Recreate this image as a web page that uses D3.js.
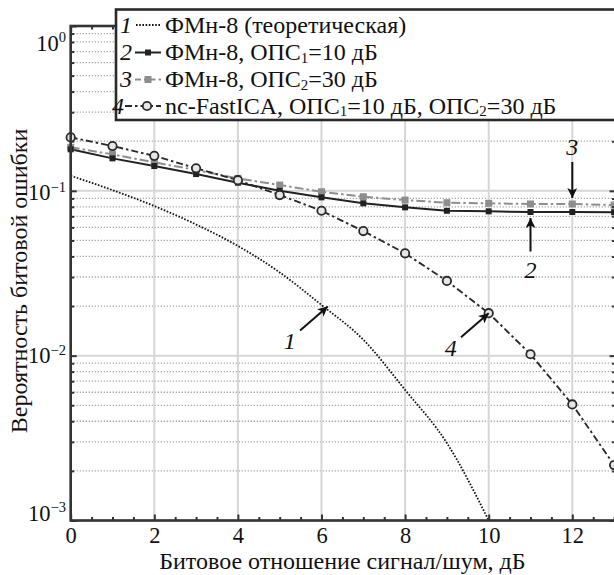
<!DOCTYPE html>
<html>
<head>
<meta charset="utf-8">
<script src="https://cdn.jsdelivr.net/npm/d3@7"></script>
<style>
  html, body { margin: 0; padding: 0; background: #fff; }
  svg { display: block; }
  svg text { font-family: "Liberation Serif", "Times New Roman", serif; }
</style>
</head>
<body>
<svg id="chart" width="614" height="575" font-family="Liberation Serif, Times New Roman, serif"></svg>
<script>
// ---------------- data ----------------
const snrDb = [0, 1, 2, 3, 4, 5, 6, 7, 8, 9, 10, 11, 12, 13];
const snrTheory = [0, 1, 2, 3, 4, 5, 6, 7, 8, 9, 10];
const berTheory = [0.1235, 0.101, 0.0809, 0.0625, 0.0463, 0.032, 0.0203, 0.0125, 0.0062, 0.00295, 0.001];
const berOps1 = [0.1786, 0.1574, 0.1414, 0.1264, 0.112, 0.100, 0.0913, 0.0840, 0.0794, 0.0757, 0.0751, 0.0744, 0.0744, 0.0742];
const berOps2 = [0.1836, 0.1665, 0.149, 0.1337, 0.119, 0.1084, 0.0987, 0.0921, 0.0879, 0.0847, 0.0840, 0.0832, 0.0832, 0.0820];
const berIca = [0.211, 0.187, 0.163, 0.137, 0.116, 0.0943, 0.0757, 0.057, 0.0418, 0.0284, 0.0181, 0.0102, 0.00506, 0.00217];

const xTickValues = [0, 2, 4, 6, 8, 10, 12];
const yDecades = [1e-3, 1e-2, 1e-1, 1];
const yTickExponents = ["\u22123", "\u22122", "\u22121", "0"];

const xTitle = "Битовое отношение сигнал/шум, дБ";
const yTitle = "Вероятность битовой ошибки";

// legend rows: number, parts of text (sub = subscript)
const legendNums = ["1", "2", "3", "4"];
const legendTexts = [
  [{t: "ФМн-8 (теоретическая)"}],
  [{t: "ФМн-8, ОПС"}, {t: "1", sub: true}, {t: "=10 дБ"}],
  [{t: "ФМн-8, ОПС"}, {t: "2", sub: true}, {t: "=30 дБ"}],
  [{t: "nc-FastICA, ОПС"}, {t: "1", sub: true}, {t: "=10 дБ, ОПС"}, {t: "2", sub: true}, {t: "=30 дБ"}]
];

// annotation labels: curve number and the point (snr, ber) the arrow points to
const annNums = ["1", "2", "3", "4"];
const annSnr = [6.15, 11, 12, 10];
const annBer = [0.0199, 0.0744, 0.0832, 0.0181];

// ---------------- layout ----------------
const FONT = "Liberation Serif, Times New Roman, serif";
const svg = d3.select("#chart");
const L = 70.7, R = 614.1, T = 26, B = 520.5;
const x = d3.scaleLinear().domain([0, 13]).range([L, R]);
const y = d3.scaleLog().domain([1e-3, 1]).range([B, T]);

const frameColor = "#333";
const fs = 24, fsTick = 22.5;

svg.append("defs").append("clipPath").attr("id", "plotclip")
  .append("rect").attr("x", L).attr("y", T).attr("width", R - L + 2).attr("height", B - T);

const arrowDef = svg.select("defs").append("marker")
  .attr("id", "arrowhead").attr("viewBox", "0 0 10 10")
  .attr("refX", 10).attr("refY", 5)
  .attr("markerWidth", 5.5).attr("markerHeight", 5)
  .attr("markerUnits", "strokeWidth")
  .attr("orient", "auto");
arrowDef.append("path").attr("d", "M0,0 L10,5 L0,10 L2.5,5 Z").attr("fill", "#111");

// ---------------- grid ----------------
const grid = svg.append("g");
const yMinor = [];
[1e-3, 1e-2, 1e-1].forEach(d => { for (let k = 2; k <= 9; k++) yMinor.push(d * k); });
grid.selectAll("line.ymin").data(yMinor).join("line")
  .attr("x1", L).attr("x2", R).attr("y1", d => y(d)).attr("y2", d => y(d))
  .attr("stroke", "#aaaaaa").attr("stroke-width", 1.3).attr("stroke-dasharray", "1.3,1.7");
grid.selectAll("line.ymaj").data(yDecades).join("line")
  .attr("x1", L).attr("x2", R).attr("y1", d => y(d)).attr("y2", d => y(d))
  .attr("stroke", "#d6d6d6").attr("stroke-width", 2);
grid.selectAll("line.xmaj").data(xTickValues).join("line")
  .attr("x1", d => x(d)).attr("x2", d => x(d)).attr("y1", T).attr("y2", B)
  .attr("stroke", "#d6d6d6").attr("stroke-width", 2);

// ---------------- series ----------------
const plot = svg.append("g");
const lineGen = d3.line().x(d => x(d[0])).y(d => y(d[1]));

const s1 = snrTheory.map((v, i) => [v, berTheory[i]]);
const s2 = snrDb.map((v, i) => [v, berOps1[i]]);
const s3 = snrDb.map((v, i) => [v, berOps2[i]]);
const s4 = snrDb.map((v, i) => [v, berIca[i]]);

const lines = plot.append("g").attr("clip-path", "url(#plotclip)");
lines.append("path").datum(s1).attr("d", d3.line().x(d => x(d[0])).y(d => y(d[1])).curve(d3.curveMonotoneX))
  .attr("fill", "none").attr("stroke", "#111").attr("stroke-width", 1.8).attr("stroke-dasharray", "1.6,1.6");
lines.append("path").datum(s3).attr("d", lineGen)
  .attr("fill", "none").attr("stroke", "#8e8e8e").attr("stroke-width", 2).attr("stroke-dasharray", "9,3,2.5,3");
lines.append("path").datum(s2).attr("d", lineGen)
  .attr("fill", "none").attr("stroke", "#222").attr("stroke-width", 2);
lines.append("path").datum(s4).attr("d", lineGen)
  .attr("fill", "none").attr("stroke", "#2a2a2a").attr("stroke-width", 1.9).attr("stroke-dasharray", "7,3,2.5,3");

const sq3 = 7, sq2 = 6;
plot.selectAll("rect.s3").data(s3).join("rect")
  .attr("x", d => x(d[0]) - sq3 / 2).attr("y", d => y(d[1]) - sq3 / 2)
  .attr("width", sq3).attr("height", sq3).attr("fill", "#8e8e8e");
plot.selectAll("rect.s2").data(s2).join("rect")
  .attr("x", d => x(d[0]) - sq2 / 2).attr("y", d => y(d[1]) - sq2 / 2)
  .attr("width", sq2).attr("height", sq2).attr("fill", "#222");
plot.selectAll("circle.s4").data(s4).join("circle")
  .attr("cx", d => x(d[0])).attr("cy", d => y(d[1])).attr("r", 4.2)
  .attr("fill", "#e6e6e6").attr("stroke", "#2a2a2a").attr("stroke-width", 1.8);

// ---------------- axes / frame ----------------
const axes = svg.append("g");
const xMinorTicks = d3.range(0, 13.01, 0.5).filter(v => v % 2 !== 0);
const yMinorTicks = yMinor;

function styleAxis(g) {
  g.select(".domain").remove();
  g.selectAll(".tick line").attr("stroke", frameColor).attr("stroke-width", 2);
}
axes.append("g").attr("transform", `translate(0,${B})`)
  .call(d3.axisBottom(x).tickValues(xTickValues).tickSize(-6).tickPadding(7).tickFormat(d3.format("d")))
  .call(styleAxis)
  .call(g => g.selectAll("text").attr("font-size", fsTick).attr("fill", "#111").attr("font-family", FONT));
axes.append("g").attr("transform", `translate(0,${B})`)
  .call(d3.axisBottom(x).tickValues(xMinorTicks).tickSize(-3.5).tickFormat(""))
  .call(styleAxis);
axes.append("g").attr("transform", `translate(0,${T})`)
  .call(d3.axisTop(x).tickValues(xTickValues).tickSize(-6).tickFormat(""))
  .call(styleAxis);
axes.append("g").attr("transform", `translate(0,${T})`)
  .call(d3.axisTop(x).tickValues(xMinorTicks).tickSize(-3.5).tickFormat(""))
  .call(styleAxis);
axes.append("g").attr("transform", `translate(${L},0)`)
  .call(d3.axisLeft(y).tickValues(yDecades).tickSize(-6).tickFormat(""))
  .call(styleAxis);
axes.append("g").attr("transform", `translate(${L},0)`)
  .call(d3.axisLeft(y).tickValues(yMinorTicks).tickSize(-3.5).tickFormat(""))
  .call(styleAxis);
axes.append("g").attr("transform", `translate(${R + 1.5},0)`)
  .call(d3.axisRight(y).tickValues(yDecades).tickSize(-6).tickFormat(""))
  .call(styleAxis);
axes.append("g").attr("transform", `translate(${R + 1.5},0)`)
  .call(d3.axisRight(y).tickValues(yMinorTicks).tickSize(-3.5).tickFormat(""))
  .call(styleAxis);

axes.append("rect").attr("x", L).attr("y", T).attr("width", R + 1.5 - L).attr("height", B - T)
  .attr("fill", "none").attr("stroke", frameColor).attr("stroke-width", 2.6);

// y tick labels (10^n)
const yLabelDy = [0, 7.5, 9.5, 24.5];
const yl = axes.selectAll("text.ylab").data(yDecades).join("text")
  .attr("x", 66).attr("y", (d, i) => y(d) + yLabelDy[i])
  .attr("text-anchor", "end").attr("font-size", fsTick).attr("fill", "#111").attr("font-family", FONT);
yl.append("tspan").text("10");
yl.append("tspan").attr("font-size", 14.5).attr("dy", -8.5).text((d, i) => yTickExponents[i]);

// axis titles
svg.append("text").attr("x", (L + R) / 2).attr("y", 569)
  .attr("text-anchor", "middle").attr("font-size", fs).attr("fill", "#111").attr("font-family", FONT).text(xTitle);
svg.append("text").attr("transform", `translate(27,${281}) rotate(-90)`)
  .attr("text-anchor", "middle").attr("font-size", fs).attr("fill", "#111").attr("font-family", FONT).text(yTitle);

// ---------------- legend ----------------
const lg = svg.append("g");
lg.append("rect").attr("x", 116).attr("y", 9.5).attr("width", 540).attr("height", 110.5)
  .attr("fill", "#fff").attr("stroke", "#2a2a2a").attr("stroke-width", 2.6);
const rowY = [32.5, 60, 87, 113.5];
const rowMid = rowY.map(v => v - 7.5);
const numEnd = [132, 132, 132, 124];
const sampleX0 = [136, 135, 135, 125], sampleX1 = 161;

lg.selectAll("text.num").data(legendNums).join("text")
  .attr("x", (d, i) => numEnd[i]).attr("y", (d, i) => rowY[i])
  .attr("text-anchor", "end").attr("font-size", fs).attr("font-style", "italic").attr("fill", "#111")
  .attr("font-family", FONT).text(d => d);

lg.append("line").attr("x1", sampleX0[0]).attr("x2", sampleX1).attr("y1", rowMid[0]).attr("y2", rowMid[0])
  .attr("stroke", "#111").attr("stroke-width", 1.8).attr("stroke-dasharray", "1.6,1.6");
lg.append("line").attr("x1", sampleX0[1]).attr("x2", sampleX1).attr("y1", rowMid[1]).attr("y2", rowMid[1])
  .attr("stroke", "#222").attr("stroke-width", 2);
lg.append("rect").attr("x", 148 - sq2 / 2).attr("y", rowMid[1] - sq2 / 2).attr("width", sq2).attr("height", sq2).attr("fill", "#222");
lg.append("line").attr("x1", sampleX0[2]).attr("x2", sampleX1).attr("y1", rowMid[2]).attr("y2", rowMid[2])
  .attr("stroke", "#8e8e8e").attr("stroke-width", 2).attr("stroke-dasharray", "6,3,2.5,3");
lg.append("rect").attr("x", 148 - sq3 / 2).attr("y", rowMid[2] - sq3 / 2).attr("width", sq3).attr("height", sq3).attr("fill", "#8e8e8e");
lg.append("line").attr("x1", sampleX0[3]).attr("x2", sampleX1).attr("y1", rowMid[3]).attr("y2", rowMid[3])
  .attr("stroke", "#2a2a2a").attr("stroke-width", 1.9).attr("stroke-dasharray", "7,3,2.5,3");
lg.append("circle").attr("cx", 147).attr("cy", rowMid[3]).attr("r", 4.2)
  .attr("fill", "#e6e6e6").attr("stroke", "#2a2a2a").attr("stroke-width", 1.8);

legendTexts.forEach((parts, i) => {
  const t = lg.append("text").attr("x", 165).attr("y", rowY[i]).attr("font-size", fs).attr("fill", "#111")
    .attr("font-family", FONT);
  let lowered = false;
  parts.forEach(p => {
    const ts = t.append("tspan").text(p.t);
    if (p.sub) { ts.attr("font-size", 15).attr("dy", 2.5); lowered = true; }
    else if (lowered) { ts.attr("dy", -2.5); lowered = false; }
  });
});

// ---------------- annotations ----------------
const annStart = [[-27.7, 24], [0, 39.5], [0, -42], [-27.7, 24]];
const annTip = [[0, 0], [0, 6], [0, -6], [0, 0]];
const annLabel = [[-38, 43], [0, 66], [0, -49], [-38, 43]];
const ann = svg.append("g");
annNums.forEach((n, i) => {
  const px = x(annSnr[i]), py = y(annBer[i]);
  ann.append("line")
    .attr("x1", px + annStart[i][0]).attr("y1", py + annStart[i][1])
    .attr("x2", px + annTip[i][0]).attr("y2", py + annTip[i][1])
    .attr("stroke", "#111").attr("stroke-width", 2).attr("marker-end", "url(#arrowhead)");
  ann.append("text").attr("x", px + annLabel[i][0]).attr("y", py + annLabel[i][1])
    .attr("text-anchor", "middle").attr("font-size", fs).attr("font-style", "italic").attr("fill", "#111")
    .attr("font-family", FONT).text(n);
});
</script>
</body>
</html>
